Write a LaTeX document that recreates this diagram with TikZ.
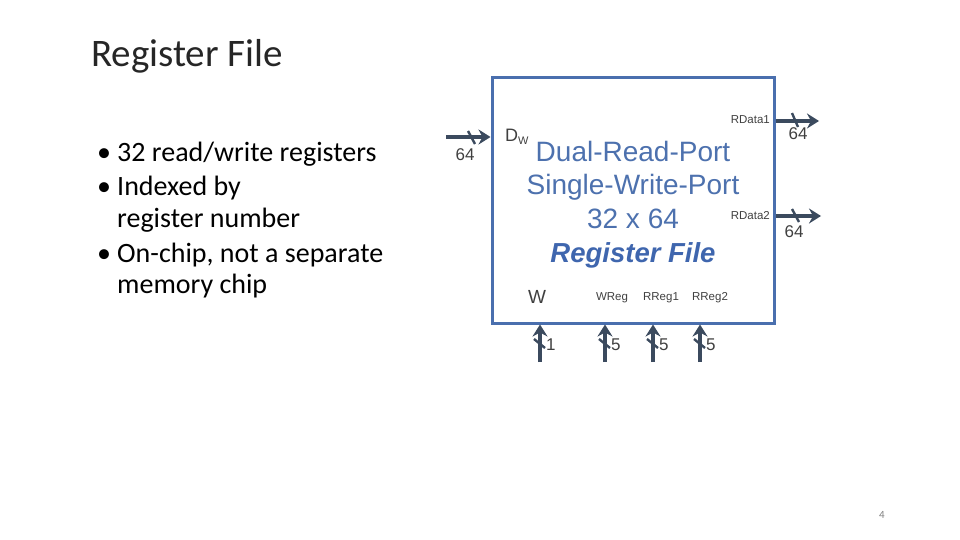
\documentclass[tikz,border=0pt]{standalone}
\usepackage{fontspec}
\setmainfont{Carlito}
\newfontfamily\arialf{Liberation Sans}
\usetikzlibrary{arrows.meta}
\definecolor{boxblue}{HTML}{4A6FAE}
\definecolor{txtblue}{HTML}{4D71AE}
\definecolor{rfblue}{HTML}{3F66AE}
\definecolor{wire}{HTML}{3B4A5E}
\definecolor{lbl}{HTML}{404040}
\definecolor{ttl}{HTML}{262626}
\tikzset{
  wirearrow/.style={draw=wire, line width=3.5pt, -{Stealth[length=12pt,width=15pt,inset=4pt]}},
  tick/.style={draw=wire, line width=2.4pt},
  portlbl/.style={font=\arialf\fontsize{11.5}{13}\selectfont, text=lbl, inner sep=0pt},
  buslbl/.style={font=\arialf\fontsize{17}{19}\selectfont, text=lbl, inner sep=0pt},
  bigtxt/.style={font=\arialf\fontsize{28}{33}\selectfont, text=txtblue, inner sep=0pt, anchor=base},
  bullettxt/.style={font=\fontsize{28}{33}\selectfont, text=black, inner sep=0pt, anchor=base west},
}
\begin{document}
\begin{tikzpicture}[x=1pt,y=-1pt]
\useasboundingbox (0,0) rectangle (960,540);
% title
\node[font=\fontsize{39}{46}\selectfont, text=ttl, inner sep=0pt, anchor=base west] (title) at (91,67) {Register File};
% bullets
\node[bullettxt] (bu1) at (97,161) {•};
\node[bullettxt] (b1t) at (117,161) {32 read/write registers};
\node[bullettxt] (bu2) at (97,196) {•};
\node[bullettxt] (b2t) at (117,196) {Indexed by};
\node[bullettxt] (b2u) at (117,227) {register number};
\node[bullettxt] (bu3) at (97,262) {•};
\node[bullettxt] (b3t) at (117,262) {On-chip, not a separate};
\node[bullettxt] (b3u) at (117,293) {memory chip};
% box
\node[draw=boxblue, line width=3pt, minimum width=282pt, minimum height=245pt, inner sep=0pt] (rf) at (633,200.5) {};
\node[bigtxt] (l1) at (633,161) {Dual-Read-Port};
\node[bigtxt] (l2) at (633,194.5) {Single-Write-Port};
\node[bigtxt] (l3) at (633,228) {32 x 64};
\node[bigtxt, text=rfblue, font=\arialf\bfseries\itshape\fontsize{27.5}{32}\selectfont] (l4) at (633,262) {Register File};
% port labels
\node[font=\arialf\fontsize{18}{20}\selectfont, text=lbl, inner sep=0pt, anchor=base west] (dw) at (505,142) {D\raisebox{-0.3ex}{\fontsize{11}{12}\selectfont W}};
\node[portlbl, anchor=east] (rd1) at (770,120) {RData1};
\node[portlbl, anchor=east] (rd2) at (770,216) {RData2};
\node[font=\arialf\fontsize{19}{21}\selectfont, text=lbl, inner sep=0pt] (wl) at (537,297) {W};
\node[portlbl] (wreg) at (612,298) {WReg};
\node[portlbl] (rr1) at (661,298) {RReg1};
\node[portlbl] (rr2) at (710,298) {RReg2};
% input data
\coordinate (din) at (446,137);
\draw[wirearrow] (din) -- (din -| rf.west);
\coordinate (t0a) at (468,131); \coordinate (t0b) at (475,144);
\draw[tick] (t0a) -- (t0b);
\node[buslbl] (n0) at (465,155) {64};
% outputs
\coordinate (o1) at (819,121);
\draw[wirearrow] (o1 -| rf.east) -- (o1);
\coordinate (t1a) at (792,113); \coordinate (t1b) at (798,127);
\draw[tick] (t1a) -- (t1b);
\node[buslbl] (n1) at (798,134) {64};
\coordinate (o2) at (821,216);
\draw[wirearrow] (o2 -| rf.east) -- (o2);
\coordinate (t2a) at (792,209); \coordinate (t2b) at (799,222);
\draw[tick] (t2a) -- (t2b);
\node[buslbl] (n2) at (794,232) {64};
% bottom inputs
\foreach \xx/\nm/\lab in {540/ba/1, 605/bb/5, 653/bc/5, 700/bd/5} {
  \coordinate (\nm) at (\xx,362);
  \draw[wirearrow] (\nm) -- (\nm |- rf.south);
  \coordinate (\nm t1) at (\xx-6,339);
  \coordinate (\nm t2) at (\xx+5,348);
  \draw[tick] (\nm t1) -- (\nm t2);
  \node[buslbl, anchor=west] (\nm l) at (\xx+6,345) {\lab};
}
% page number
\node[font=\fontsize{11}{13}\selectfont, text=gray, inner sep=0pt] (pg) at (882,515) {4};
\end{tikzpicture}
\end{document}
